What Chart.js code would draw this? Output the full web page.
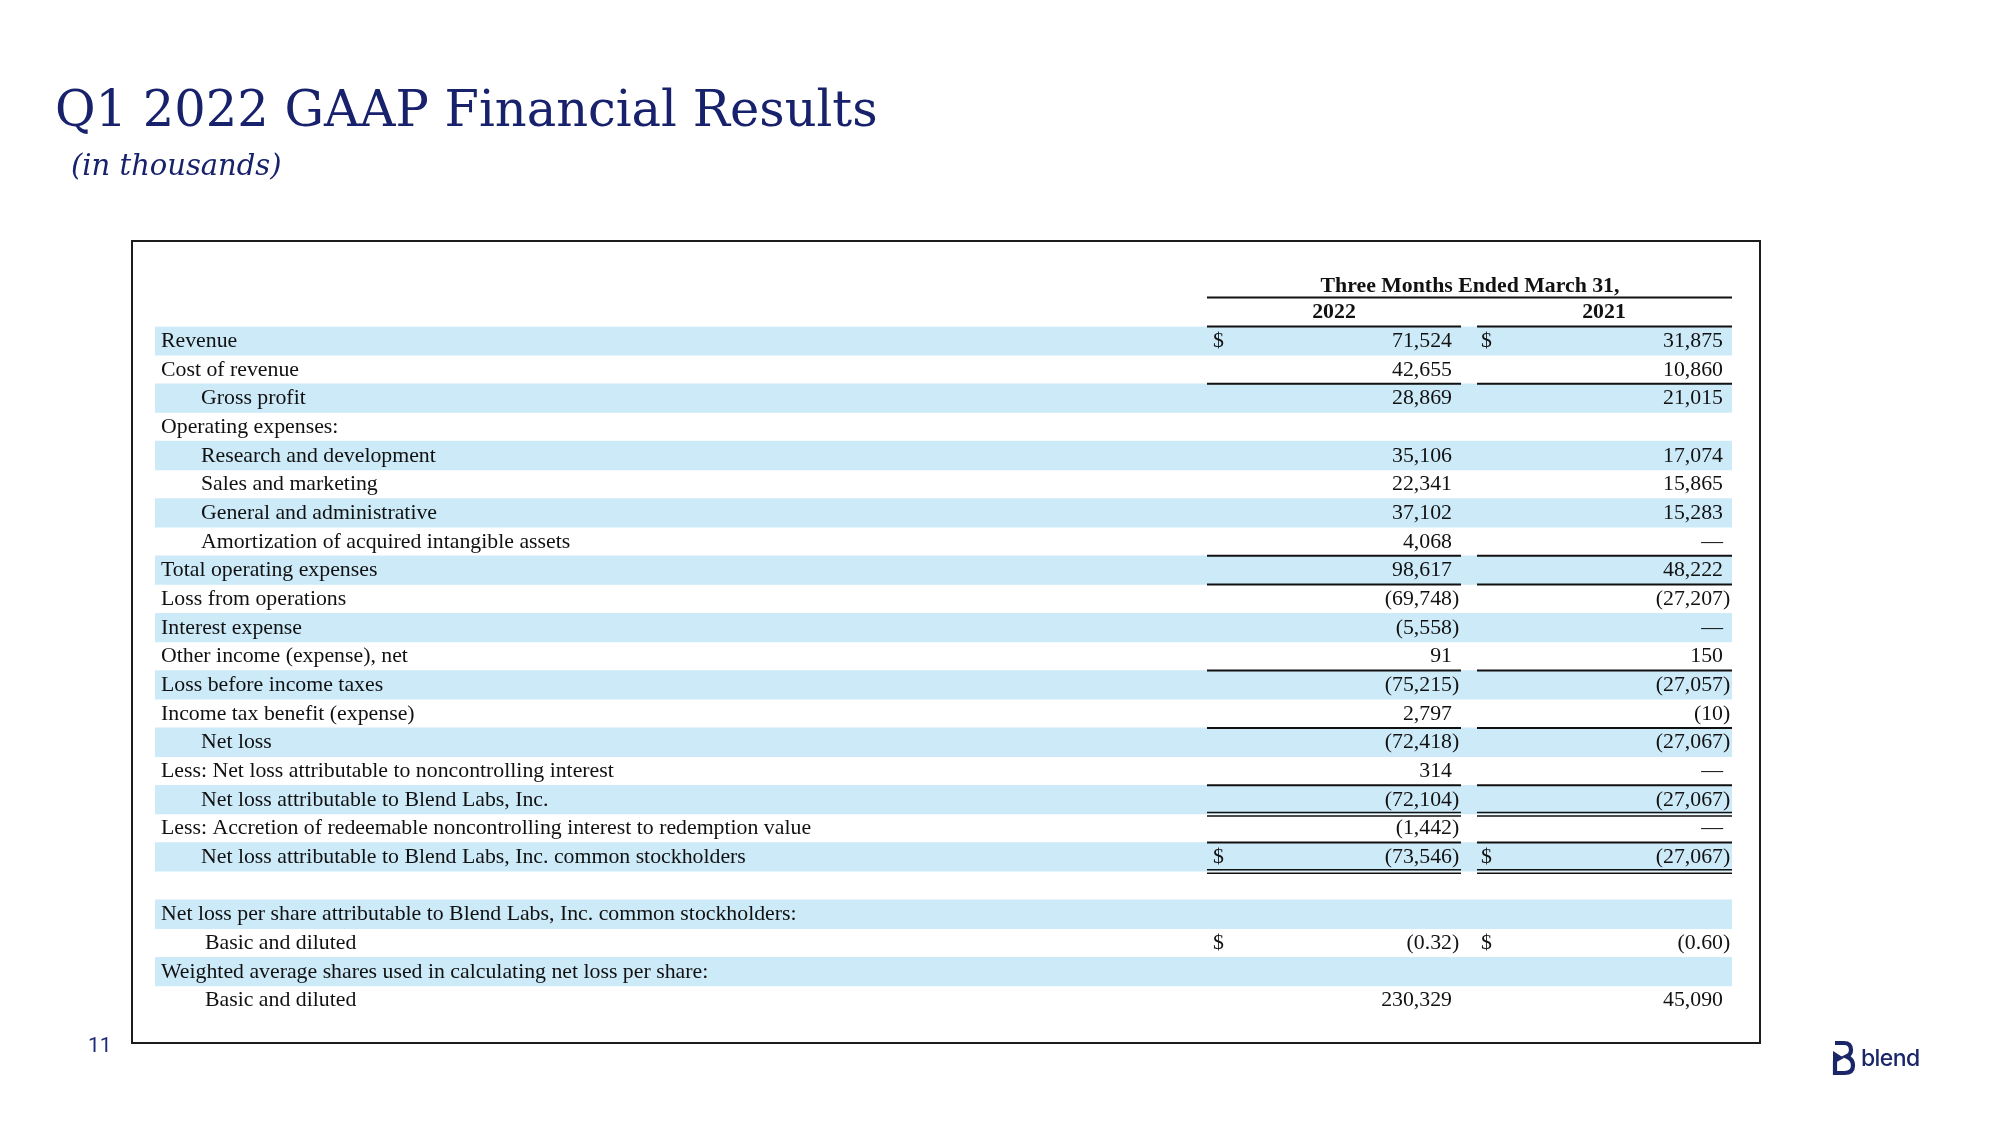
<!DOCTYPE html>
<html>
<head>
<meta charset="utf-8">
<script src="https://cdn.jsdelivr.net/npm/chart.js@4.4.1/dist/chart.umd.min.js"></script>
<style>
  body { margin: 0; background: #fff; }
  #page { position: relative; width: 2000px; height: 1125px; overflow: hidden; }
  #chartWrap { position: absolute; left: 0; top: 0; width: 2000px; height: 1125px; }
  .title { position: absolute; left: 55px; top: 84.5px; font-family: "DejaVu Serif", serif; font-size: 49.5px; line-height: 1; color: #17216c; white-space: nowrap; }
  .subtitle { position: absolute; left: 71px; top: 151px; font-family: "DejaVu Serif", serif; font-style: italic; font-size: 29px; line-height: 1; color: #17216c; white-space: nowrap; }
  .pagenum { position: absolute; left: 88px; top: 1035px; font-family: Roboto, sans-serif; font-size: 21px; line-height: 1; color: #1d2a78; }
  .logo { position: absolute; left: 1832px; top: 1040px; }
  .logo span { position: absolute; left: 29px; top: 7px; font-family: Inter, sans-serif; font-weight: 500; font-size: 23px; line-height: 1; color: #1b2669; letter-spacing: -0.6px; }
</style>
</head>
<body>
<div id="page">
  <div id="chartWrap"><canvas id="finTable"></canvas></div>
  <div class="title">Q1 2022 GAAP Financial Results</div>
  <div class="subtitle">(in thousands)</div>
  <div class="pagenum">11</div>
  <div class="logo">
    <svg width="24" height="36" viewBox="0 0 24 36">
      <path d="M3 3 H12 Q19 3 19 10 Q19 14.5 14.5 16.5 Q21 19 21 25.5 Q21 33 12.5 33 H3 V21" fill="none" stroke="#1b2669" stroke-width="4.2"/>
      <path d="M1 11 L12 18 L1 24 Z" fill="#1b2669"/>
    </svg>
    <span>blend</span>
  </div>
</div>
<script>
// rows of the statement (blank row separates the per-share block)
const rowLabels = [
  'Revenue',
  'Cost of revenue',
  'Gross profit',
  'Operating expenses:',
  'Research and development',
  'Sales and marketing',
  'General and administrative',
  'Amortization of acquired intangible assets',
  'Total operating expenses',
  'Loss from operations',
  'Interest expense',
  'Other income (expense), net',
  'Loss before income taxes',
  'Income tax benefit (expense)',
  'Net loss',
  'Less: Net loss attributable to noncontrolling interest',
  'Net loss attributable to Blend Labs, Inc.',
  'Less: Accretion of redeemable noncontrolling interest to redemption value',
  'Net loss attributable to Blend Labs, Inc. common stockholders',
  '',
  'Net loss per share attributable to Blend Labs, Inc. common stockholders:',
  'Basic and diluted',
  'Weighted average shares used in calculating net loss per share:',
  'Basic and diluted'
]
const rowIndent = [0,0,1,0,1,1,1,1,0,0,0,0,0,0,1,0,1,0,1,0,0,2,0,2]

const q1_2022 = [71524, 42655, 28869, null, 35106, 22341, 37102, 4068, 98617, -69748, -5558, 91,
  -75215, 2797, -72418, 314, -72104, -1442, -73546, null, null, -0.32, null, 230329]
const q1_2021 = [31875, 10860, 21015, null, 17074, 15865, 15283, 0, 48222, -27207, 0, 150,
  -27057, -10, -27067, 0, -27067, 0, -27067, null, null, -0.60, null, 45090]

const headerTitle = 'Three Months Ended March 31,'
const yearLabels = ['2022', '2021']
const dollarRows = [0, 18, 21]
const ruleAboveRows = [2, 8, 9, 12, 14, 16, 18]
const doubleRuleBelowRows = [16, 18]

// shaded bands on every other line
const shadedRows = rowLabels.map((l, i) => (i % 2 === 0 ? [0, 1] : null))

const serif = '"Liberation Serif", "Times New Roman", serif'
const textSize = 21.8

// column anchors, measured from the left edge of the shaded area
const cols = [
  { ruleL: 1052, ruleR: 1306, dollar: 1058, numR: 1297 },
  { ruleL: 1322, ruleR: 1577, dollar: 1326, numR: 1568 }
]

function fmt(v) {
  if (v === null) return null
  if (v === 0) return { txt: '—', paren: false }
  const d = Number.isInteger(v) ? 0 : 2
  const s = Math.abs(v).toLocaleString('en-US', { minimumFractionDigits: d, maximumFractionDigits: d })
  return v < 0 ? { txt: '(' + s, paren: true } : { txt: s, paren: false }
}

const tablePlugin = {
  id: 'tableText',
  beforeDraw(chart) {
    const c = chart.ctx
    c.save()
    c.strokeStyle = '#1c1c1c'
    c.lineWidth = 2
    c.strokeRect(132, 241, 1628, 802)
    c.restore()
  },
  afterDatasetsDraw(chart) {
    const c = chart.ctx
    const a = chart.chartArea
    const y = chart.scales.y
    const pitch = y.getPixelForValue(1) - y.getPixelForValue(0)
    const rowTop = i => y.getPixelForValue(i) - pitch / 2
    const L = a.left

    c.save()
    c.fillStyle = '#111'
    c.strokeStyle = '#111'

    // header
    c.font = 'bold ' + textSize + 'px ' + serif
    c.textAlign = 'center'
    c.textBaseline = 'alphabetic'
    c.fillText(headerTitle, L + 1315, rowTop(0) - 35)
    c.fillText(yearLabels[0], L + 1179, rowTop(0) - 9)
    c.fillText(yearLabels[1], L + 1449, rowTop(0) - 9)
    c.lineWidth = 2
    c.beginPath()
    c.moveTo(L + cols[0].ruleL, rowTop(0) - 29); c.lineTo(L + cols[1].ruleR, rowTop(0) - 29)
    cols.forEach(col => { c.moveTo(L + col.ruleL, rowTop(0)); c.lineTo(L + col.ruleR, rowTop(0)) })
    c.stroke()

    // row labels and values
    c.font = textSize + 'px ' + serif
    rowLabels.forEach((label, i) => {
      const base = rowTop(i) + 20.4
      c.textAlign = 'left'
      const ind = rowIndent[i] === 1 ? 46 : rowIndent[i] === 2 ? 50 : 6
      c.fillText(label, L + ind, base)
      ;[q1_2022, q1_2021].forEach((series, k) => {
        const col = cols[k]
        if (dollarRows.includes(i)) { c.textAlign = 'left'; c.fillText('$', L + col.dollar, base) }
        const f = fmt(series[i])
        if (!f) return
        c.textAlign = 'right'
        c.fillText(f.txt, L + col.numR, base)
        if (f.paren) { c.textAlign = 'left'; c.fillText(')', L + col.numR, base) }
      })
    })

    // rules
    c.lineWidth = 2
    c.beginPath()
    ruleAboveRows.forEach(i => {
      cols.forEach(col => { c.moveTo(L + col.ruleL, rowTop(i)); c.lineTo(L + col.ruleR, rowTop(i)) })
    })
    c.stroke()
    c.lineWidth = 1.5
    c.beginPath()
    doubleRuleBelowRows.forEach(i => {
      const b = rowTop(i + 1)
      cols.forEach(col => {
        c.moveTo(L + col.ruleL, b - 1.5); c.lineTo(L + col.ruleR, b - 1.5)
        c.moveTo(L + col.ruleL, b + 2); c.lineTo(L + col.ruleR, b + 2)
      })
    })
    c.stroke()
    c.restore()
  }
}

const ctx = document.getElementById('finTable').getContext('2d')
new Chart(ctx, {
  type: 'bar',
  data: {
    labels: rowLabels,
    datasets: [{
      data: shadedRows,
      backgroundColor: '#cdeaf9',
      borderWidth: 0,
      barPercentage: 1,
      categoryPercentage: 1
    }]
  },
  options: {
    indexAxis: 'y',
    responsive: true,
    maintainAspectRatio: false,
    animation: false,
    layout: { padding: { left: 155, right: 268, top: 326.5, bottom: 110.4 } },
    scales: {
      x: { display: false, min: 0, max: 1 },
      y: { display: false }
    },
    plugins: { legend: { display: false }, tooltip: { enabled: false } }
  },
  plugins: [tablePlugin]
})
</script>
</body>
</html>
